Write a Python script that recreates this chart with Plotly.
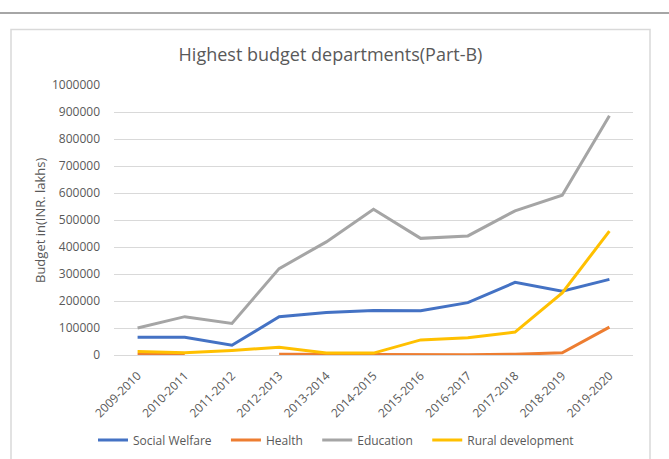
import plotly.graph_objects as go

# Fiscal years on the category axis
years = ["2009-2010", "2010-2011", "2011-2012", "2012-2013", "2013-2014",
         "2014-2015", "2015-2016", "2016-2017", "2017-2018", "2018-2019",
         "2019-2020"]

# Budget per department, in INR lakhs (None = no figure reported)
social_welfare = [66000, 66000, 36000, 142000, 157000, 165000, 164000,
                  194000, 269000, 236000, 280000]
health = [2000, 2000, None, 3000, 2000, 1500, 1000, 1000, 3000, 8000, 103000]
education = [100000, 142000, 117000, 320000, 419000, 540000, 432000,
             441000, 534000, 592000, 886000]
rural_development = [13000, 8000, 17000, 29000, 7000, 7000, 56000, 64000,
                     85000, 230000, 459000]

series = [
    ("Social Welfare", social_welfare, "#4472C4"),
    ("Health", health, "#ED7D31"),
    ("Education", education, "#A5A5A5"),
    ("Rural development", rural_development, "#FFC000"),
]

W, H = 669, 459
ML, MR, MT, MB = 114, 36, 85, 104
PW, PH = W - ML - MR, H - MT - MB
TXT = "#595959"
FONT = "Open Sans"
PAD = "\u00a0" * 3  # extra spacing between legend entries


def px_x(p):
    return (p - ML) / PW


def px_y(p):
    return (H - MB - p) / PH


fig = go.Figure()
for i, (name, vals, color) in enumerate(series):
    label = name + (PAD if i < len(series) - 1 else "")
    fig.add_trace(go.Scatter(
        x=years, y=vals, name=label, mode="lines",
        line=dict(color=color, width=3),
        connectgaps=False,
        hovertemplate=name + ": %{y}<extra></extra>",
    ))

fig.update_layout(
    width=W, height=H,
    margin=dict(l=ML, r=MR, t=MT, b=MB, autoexpand=False),
    paper_bgcolor="white", plot_bgcolor="white",
    font=dict(family=FONT, color=TXT, size=12),
    title=dict(text="Highest budget departments(Part-B)",
               x=330.5 / W, xref="container", xanchor="center",
               y=1 - 55 / H, yref="container", yanchor="middle",
               font=dict(family=FONT, size=18, color=TXT)),
    showlegend=True,
    legend=dict(orientation="h", x=px_x(336), xanchor="center",
                y=px_y(440), yanchor="middle",
                font=dict(family=FONT, size=12, color=TXT),
                itemwidth=30, tracegroupgap=0),
    xaxis=dict(type="category", range=[-0.5, len(years) - 0.5],
               tickangle=-45, showgrid=False, automargin=False,
               showline=True, linecolor="#d9d9d9", linewidth=1,
               ticks="", ticklabelstandoff=8,
               tickfont=dict(family=FONT, size=12, color=TXT)),
    yaxis=dict(range=[0, 1000000], dtick=100000, tickformat="d",
               showgrid=True, gridcolor="#d9d9d9", gridwidth=1,
               zeroline=False, showline=False, ticks="", automargin=False,
               ticklabelstandoff=13,
               tickfont=dict(family=FONT, size=12, color=TXT)),
    annotations=[dict(text="Budget in(INR. lakhs)", textangle=-90,
                      xref="paper", yref="paper", x=px_x(40), y=0.5,
                      xanchor="center", yanchor="middle", showarrow=False,
                      font=dict(family=FONT, size=13, color=TXT))],
    shapes=[
        # chart frame
        dict(type="rect", xref="paper", yref="paper",
             x0=px_x(11), x1=px_x(650), y0=px_y(475), y1=px_y(29.5),
             line=dict(color="#d9d9d9", width=1.5), layer="below"),
        # separator line across the top of the page
        dict(type="line", xref="paper", yref="paper",
             x0=px_x(0), x1=px_x(W), y0=px_y(13), y1=px_y(13),
             line=dict(color="#a6a6a6", width=2)),
    ],
)

fig.write_html("out.html")
